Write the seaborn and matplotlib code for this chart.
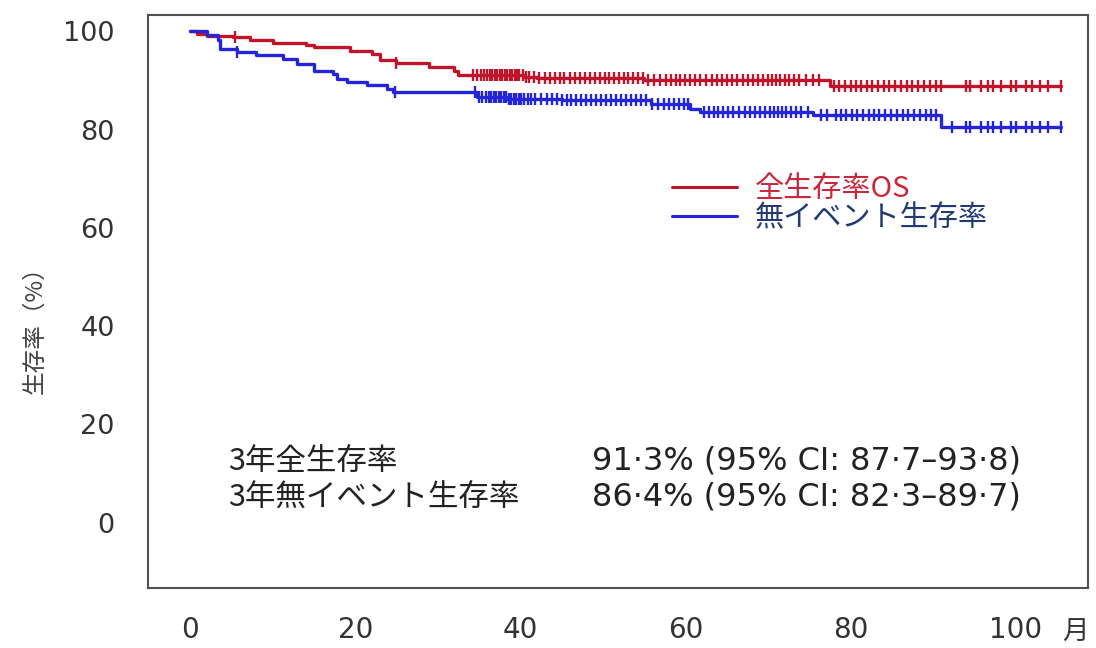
import numpy as np
import pandas as pd
import matplotlib
matplotlib.use("Agg")
import matplotlib.pyplot as plt
import seaborn as sns
from matplotlib.lines import Line2D

# Kaplan-Meier steps (months, %)
os_time = [0, 0.8, 2.0, 5.2, 7.3, 10.0, 14.0, 15.0, 19.4, 22.0, 23.0, 25.0, 29.0, 32.0, 32.5, 40.4, 42.0, 55.0, 77.5]
os_surv = [100, 99.4, 99.0, 98.8, 98.3, 97.7, 97.3, 96.8, 96.1, 95.4, 94.2, 93.6, 92.7, 92.0, 91.2, 90.8, 90.5, 90.1, 88.9]

efs_time = [0, 2.0, 3.4, 3.6, 5.7, 8.0, 11.3, 13.0, 15.0, 17.3, 17.8, 19.0, 21.4, 23.8, 24.6, 34.7, 38.4, 45.0,
            55.8, 60.6, 61.8, 75.5, 91.0]
efs_surv = [100, 99.2, 98.2, 96.5, 95.8, 95.1, 94.4, 93.4, 92.0, 91.4, 90.4, 89.7, 89.0, 88.3, 87.7, 86.7, 86.3,
            86.0, 85.2, 84.3, 83.6, 82.9, 80.5]

# censored follow-up times (months)
os_cens = [5.5, 25.0, 34.3, 34.8, 35.2, 35.6, 36.0, 36.3, 36.6, 36.9, 37.2, 37.5, 37.8, 38.1, 38.4, 38.7, 39.0,
           39.3, 39.6, 39.9, 40.3, 40.7, 41.1, 41.6, 42.3, 43.0, 43.6, 44.2, 44.8, 45.3, 46.0, 46.6, 47.2, 47.8,
           48.4, 49.0, 49.6, 50.2, 50.8, 51.4, 52.0, 52.5, 53.1, 53.7, 54.3, 54.9, 55.5, 56.2, 56.9, 57.6, 58.2,
           58.8, 59.4, 60.0, 60.6, 61.2, 61.8, 62.5, 63.2, 63.8, 64.4, 65.0, 65.6, 66.3, 67.0, 67.6, 68.2, 68.8,
           69.4, 70.0, 70.5, 71.0, 71.5, 72.0, 72.6, 73.2, 73.8, 74.6, 75.4, 76.2, 78.0, 78.6, 79.3, 80.0, 80.6,
           81.3, 82.0, 82.6, 83.3, 84.0, 84.7, 85.4, 86.1, 86.8, 87.5, 88.2, 88.9, 89.6, 90.3, 91.0, 94.0, 94.5,
           95.8, 96.6, 97.2, 98.2, 99.4, 100.0, 101.2, 102.0, 103.0, 103.9, 105.5]
efs_cens = [5.7, 24.8, 34.5, 35.0, 35.4, 35.8, 36.2, 36.5, 36.8, 37.1, 37.4, 37.7, 38.0, 38.3, 38.6, 38.9, 39.2,
            39.5, 39.8, 40.1, 40.5, 40.9, 41.3, 41.8, 42.5, 43.2, 43.8, 44.4, 45.0, 45.6, 46.2, 46.8, 47.4, 48.0,
            48.6, 49.2, 49.8, 50.4, 51.0, 51.6, 52.2, 52.8, 53.4, 54.0, 54.6, 55.2, 56.0, 56.7, 57.4, 58.0, 58.6,
            59.2, 59.8, 60.3, 62.2, 62.8, 63.4, 64.0, 64.6, 65.2, 65.8, 66.5, 67.2, 67.8, 68.4, 69.0, 69.6, 70.2,
            70.7, 71.2, 71.7, 72.2, 72.8, 73.4, 74.0, 74.8, 76.4, 77.2, 78.2, 78.8, 79.5, 80.2, 80.8, 81.5, 82.2,
            82.8, 83.5, 84.2, 84.9, 85.6, 86.3, 87.0, 87.7, 88.4, 89.1, 89.8, 90.4, 92.3, 94.0, 94.5, 95.8, 96.6,
            97.2, 98.2, 99.4, 100.0, 101.2, 102.0, 103.0, 103.9, 105.5]

labels = ["全生存率OS", "無イベント生存率"]
line_colors = ["#c0142a", "#2424d8"]
text_colors = ["#c8283c", "#213a73"]

summary_names = ["3年全生存率", "3年無イベント生存率"]
summary_vals = ["91·3% (95% CI: 87·7–93·8)", "86·4% (95% CI: 82·3–89·7)"]

sns.set_theme(style="white")
plt.rcParams["font.family"] = ["DejaVu Sans", "Noto Sans CJK JP"]

fig = plt.figure(figsize=(10.96, 6.48), dpi=100)
ax = fig.add_axes([0.135, 0.0926, 0.858, 0.884])


def km_frame(t, s, cens):
    end = max(cens)
    df = pd.DataFrame({"time": list(t) + [end], "surv": list(s) + [s[-1]]})
    idx = np.searchsorted(t, cens, side="right") - 1
    cf = pd.DataFrame({"time": cens, "surv": np.asarray(s)[idx]})
    return df, cf


for (t, s, c), col in zip([(os_time, os_surv, os_cens), (efs_time, efs_surv, efs_cens)], line_colors):
    df, cf = km_frame(t, s, c)
    sns.lineplot(data=df, x="time", y="surv", color=col, linewidth=2.4,
                 drawstyle="steps-post", estimator=None, sort=False, ax=ax)
    sns.scatterplot(data=cf, x="time", y="surv", color=col, marker="|", s=70,
                    linewidth=1.7, ax=ax, zorder=3)

ax.set_xlim(-5.1, 108.8)
ax.set_ylim(-13.3, 103.3)
ax.set_xticks([0, 20, 40, 60, 80, 100])
ax.set_yticks([0, 20, 40, 60, 80, 100])
ax.set_xlabel("")
ax.set_ylabel("生存率（%）", fontsize=17, color="#444444",
              family=["Noto Sans CJK JP", "DejaVu Sans"])
ax.yaxis.set_label_coords(-0.108, 0.46)

for sp in ax.spines.values():
    sp.set_color("#505050")
    sp.set_linewidth(1.5)
ax.tick_params(axis="both", which="both", direction="out", length=7, width=1.2,
               color="#505050", labelcolor="#333333")
ax.tick_params(axis="y", pad=17, labelsize=19.5)
ax.tick_params(axis="x", pad=13, labelsize=20)

ax.text(0.986, -0.077, "月", transform=ax.transAxes, ha="center", va="center",
        fontsize=19, color="#333333", family=["Noto Sans CJK JP"])

handles = [Line2D([], [], color=c, linewidth=2.2) for c in line_colors]
leg = ax.legend(handles, labels, loc="upper left", bbox_to_anchor=(0.557, 0.722),
                frameon=False, handlelength=2.25, handletextpad=0.6,
                labelspacing=-0.05, borderpad=0, borderaxespad=0,
                prop={"family": ["Noto Sans CJK JP"], "size": 21})
for txt, c in zip(leg.get_texts(), text_colors):
    txt.set_color(c)

for i, (name, val) in enumerate(zip(summary_names, summary_vals)):
    y = 0.221 - i * 0.063
    ax.text(0.085, y, name, transform=ax.transAxes, ha="left", va="center",
            fontsize=22, color="#222222", family=["Noto Sans CJK JP"])
    ax.text(0.472, y, val, transform=ax.transAxes, ha="left", va="center",
            fontsize=23, color="#222222")

fig.savefig("out.png", dpi=100)
